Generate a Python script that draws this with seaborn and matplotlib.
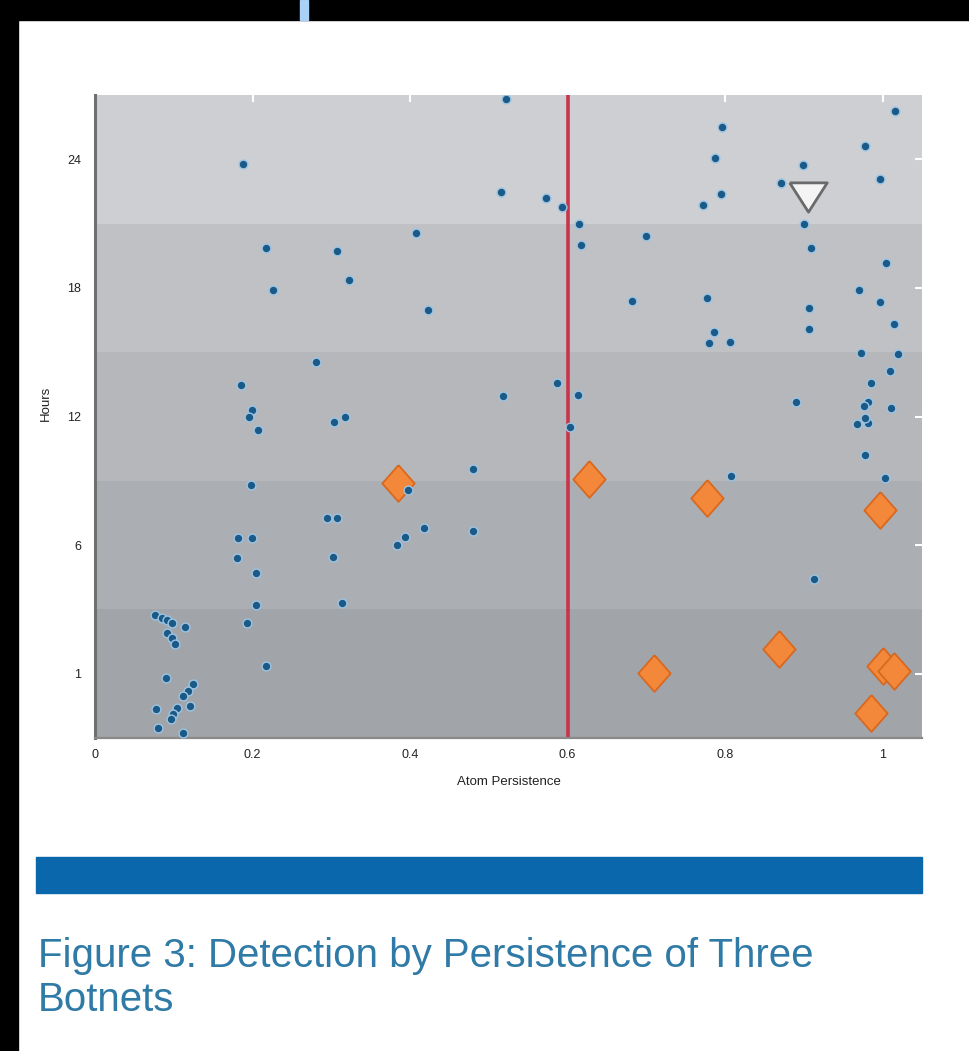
import numpy as np
import pandas as pd
import matplotlib
matplotlib.use("Agg")
import matplotlib.pyplot as plt
from matplotlib.patches import Rectangle
import seaborn as sns

# Atom persistence / hours of normal hosts (blue dots)
blue_x = [0.076, 0.085, 0.091, 0.098, 0.114, 0.091, 0.098, 0.101,
          0.090, 0.124, 0.118, 0.112, 0.120, 0.104, 0.099, 0.096, 0.077, 0.080, 0.112,
          0.188, 0.217, 0.226, 0.186, 0.199, 0.196, 0.207, 0.198, 0.181, 0.199, 0.180, 0.204, 0.204, 0.193, 0.217,
          0.307, 0.322, 0.281, 0.304, 0.317, 0.294, 0.307, 0.302, 0.314,
          0.407, 0.423, 0.397, 0.418, 0.384, 0.394,
          0.480, 0.480, 0.522, 0.515, 0.518,
          0.573, 0.593, 0.615, 0.617, 0.586, 0.613, 0.603,
          0.700, 0.682, 0.796, 0.787, 0.795, 0.772, 0.777, 0.786, 0.779, 0.806, 0.807,
          0.871, 0.899, 0.900, 0.909, 0.906, 0.907, 0.890, 0.913,
          1.016, 0.978, 0.997, 1.004, 0.970, 0.997, 1.015, 0.973, 1.019, 1.010, 0.985, 0.981,
          0.976, 1.011, 0.968, 0.982, 0.977, 0.977, 1.003]
blue_h = [3.30, 3.18, 3.07, 2.99, 2.83, 2.60, 2.40, 2.17,
          0.84, 0.61, 0.34, 0.14, -0.25, -0.33, -0.56, -0.75, -0.36, -1.11, -1.30,
          23.77, 19.84, 17.92, 13.47, 12.31, 11.98, 11.37, 8.80, 6.32, 6.32, 5.48, 4.90, 3.69, 2.99, 1.31,
          19.74, 18.38, 14.55, 11.74, 11.98, 7.25, 7.25, 5.52, 3.73,
          20.54, 16.98, 8.56, 6.78, 5.99, 6.36,
          9.54, 6.64, 26.8, 22.46, 12.96,
          22.18, 21.76, 20.96, 20.02, 13.57, 13.01, 11.51,
          20.40, 17.40, 25.50, 24.05, 22.36, 21.89, 17.54, 15.95, 15.44, 15.49, 9.22,
          22.88, 23.72, 20.96, 19.88, 17.08, 16.09, 12.68, 4.70,
          26.25, 24.61, 23.07, 19.18, 17.92, 17.36, 16.33, 14.97, 14.92, 14.13, 13.57, 12.68,
          12.49, 12.40, 11.65, 11.69, 11.93, 10.20, 9.12]

# detected botnet atoms (orange diamonds)
bot_x = [0.385, 0.627, 0.777, 0.997, 0.869, 0.710, 1.001, 1.015, 0.985]
bot_h = [8.90, 9.08, 8.19, 7.63, 1.97, 1.04, 1.31, 1.12, -0.52]

# third botnet (triangle)
tri_x = [0.905]
tri_h = [22.22]

threshold = 0.6
y_ticks = [1, 6, 12, 18, 24]
x_ticks = [0, 0.2, 0.4, 0.6, 0.8, 1]
x_tick_labels = ["0", "0.2", "0.4", "0.6", "0.8", "1"]
band_edges = [-1.5, 3.5, 9, 15, 21, 27]
band_colors = ["#a1a4a8", "#abaeb2", "#b5b7bb", "#bfc1c5", "#cdcfd3"]

blue_df = pd.DataFrame({"persistence": blue_x, "hours": blue_h})
bot_df = pd.DataFrame({"persistence": bot_x, "hours": bot_h})
tri_df = pd.DataFrame({"persistence": tri_x, "hours": tri_h})

sns.set_style("white")
plt.rcParams["font.family"] = ["Liberation Sans", "DejaVu Sans"]

# y axis: tick labels evenly spaced though hours are not
H_KNOTS = np.array([-7.0, 1, 6, 12, 18, 24, 30])
U_KNOTS = np.array([-1.6, 0, 1, 2, 3, 4, 5])


def fwd(h):
    return np.interp(h, H_KNOTS, U_KNOTS)


def inv(u):
    return np.interp(u, U_KNOTS, H_KNOTS)


fig = plt.figure(figsize=(9.69, 10.51), dpi=100)
ax = fig.add_axes([95 / 969, 1 - 738 / 1051, 827 / 969, 643 / 1051])
ax.set_yscale("function", functions=(fwd, inv))

for lo, hi, c in zip(band_edges[:-1], band_edges[1:], band_colors):
    ax.axhspan(lo, hi, color=c, zorder=0, lw=0)

ax.axvline(threshold, color="#c8344a", lw=2.6, zorder=1)

diamond = [(0, 1), (0.88, 0), (0, -1), (-0.88, 0), (0, 1)]
sns.scatterplot(data=bot_df, x="persistence", y="hours", ax=ax, marker=diamond,
                s=700, color="#f4883a", edgecolor="#d9681f", linewidth=1.3, zorder=2)
sns.scatterplot(data=blue_df, x="persistence", y="hours", ax=ax, marker="o",
                s=40, color="#1b5a87", edgecolor="#9cc4e4", linewidth=1.0, zorder=3)
tri = [(-1, 0.78), (1, 0.78), (0, -0.78), (-1, 0.78)]
sns.scatterplot(data=tri_df, x="persistence", y="hours", ax=ax, marker=tri,
                s=730, color="#f4f4f4", edgecolor="#6a6a6a", linewidth=2.0, zorder=4)

ax.set_xlim(0, 1.05)
ax.set_ylim(-1.5, 27)
ax.set_xticks(x_ticks)
ax.set_xticklabels(x_tick_labels)
ax.set_yticks(y_ticks)
ax.set_yticklabels([str(t) for t in y_ticks])
ax.minorticks_off()
ax.tick_params(direction="in", color="white", length=5, width=1.5,
               top=True, right=True, labelsize=9, labelcolor="#222222")
ax.tick_params(axis="y", pad=10)
ax.tick_params(axis="x", pad=8)

for side in ["top", "right"]:
    ax.spines[side].set_visible(False)
ax.spines["left"].set_color("#6f6f6f")
ax.spines["left"].set_linewidth(2.2)
ax.spines["bottom"].set_color("#8a8a8a")
ax.spines["bottom"].set_linewidth(1.6)

ax.set_xlabel("Atom Persistence", fontsize=9.5, color="#222222", labelpad=11)
ax.set_ylabel("Hours", fontsize=9.5, color="#222222")
ax.yaxis.set_label_coords(-0.052, 0.52)

# page decoration around the figure
fig.add_artist(Rectangle((0, 1 - 20 / 1051), 1, 20 / 1051, transform=fig.transFigure,
                         color="black", zorder=10))
fig.add_artist(Rectangle((0, 0), 18 / 969, 1, transform=fig.transFigure,
                         color="black", zorder=10))
fig.add_artist(Rectangle((300 / 969, 1 - 20 / 1051), 8 / 969, 20 / 1051,
                         transform=fig.transFigure, color="#a9d1f7", zorder=11))
fig.add_artist(Rectangle((36 / 969, 1 - 893 / 1051), 886 / 969, 36 / 1051,
                         transform=fig.transFigure, color="#0b67ab", zorder=10))

fig.text(38 / 969, 1 - 956 / 1051, "Figure 3: Detection by Persistence of Three",
         fontsize=29, color="#2f7aa6", va="center", ha="left")
fig.text(38 / 969, 1 - 1000 / 1051, "Botnets",
         fontsize=29, color="#2f7aa6", va="center", ha="left")

fig.savefig("out.png", dpi=100)
